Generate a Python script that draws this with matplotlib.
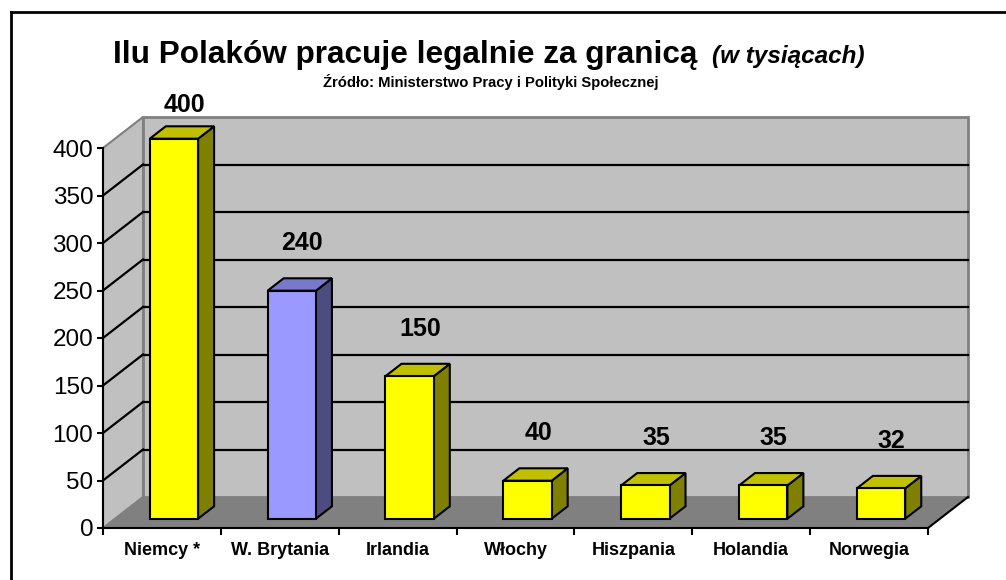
import numpy as np
import matplotlib.pyplot as plt
from matplotlib.patches import Polygon
from matplotlib.lines import Line2D

plt.rcParams['font.family'] = ['Liberation Sans', 'DejaVu Sans']

kraje = ["Niemcy *", "W. Brytania", "Irlandia", "Włochy", "Hiszpania", "Holandia", "Norwegia"]
wartosci = [400, 240, 150, 40, 35, 35, 32]
kolory_przod = ["#FFFF00", "#9999FF", "#FFFF00", "#FFFF00", "#FFFF00", "#FFFF00", "#FFFF00"]
kolory_gora = ["#C0C000", "#7878CC", "#C0C000", "#C0C000", "#C0C000", "#C0C000", "#C0C000"]
kolory_bok = ["#808000", "#4C4C80", "#808000", "#808000", "#808000", "#808000", "#808000"]
y_ticks = [0, 50, 100, 150, 200, 250, 300, 350, 400]

W, H = 1006, 580
fig = plt.figure(figsize=(W / 100, H / 100), dpi=100)

# front plane of the 3d box, in pixels
x0, x1 = 103, 928
y0, y1 = 528, 148
ax = fig.add_axes([x0 / W, (H - y0) / H, (x1 - x0) / W, (y0 - y1) / H])
n = len(kraje)
ymax = 400
ax.set_xlim(0, n)
ax.set_ylim(0, ymax)
ax.patch.set_visible(False)

# depth of the box in data units
DX = 40 / ((x1 - x0) / n)
DY = 31 / ((y0 - y1) / ymax)

# walls and floor
side = Polygon([(0, 0), (0, ymax), (DX, ymax + DY), (DX, DY)], closed=True,
               facecolor="#C0C0C0", edgecolor="#808080", lw=1.5, clip_on=False, zorder=0)
back = Polygon([(DX, DY), (DX, ymax + DY), (n + DX, ymax + DY), (n + DX, DY)], closed=True,
               facecolor="#C0C0C0", edgecolor="#808080", lw=2, clip_on=False, zorder=0)
floor = Polygon([(0, 0), (n, 0), (n + DX, DY), (DX, DY)], closed=True,
                facecolor="#808080", edgecolor="none", clip_on=False, zorder=0.5)
ax.add_patch(side)
ax.add_patch(back)
ax.add_patch(floor)

for v in y_ticks[1:-1]:
    ax.plot([0, DX], [v, v + DY], color="black", lw=1.6, clip_on=False, zorder=1)
    ax.plot([DX, n + DX], [v + DY, v + DY], color="black", lw=1.6, clip_on=False, zorder=1)
ax.plot([n, n + DX], [0, DY], color="black", lw=1.5, clip_on=False, zorder=1)

# bars
bw = 0.41
f0, f1 = 0.3, 0.7
ddx = (f1 - f0) * DX
ddy = (f1 - f0) * DY
for i, v in enumerate(wartosci):
    xl = i + 0.5 - bw / 2 + f0 * DX
    yb = f0 * DY
    yt = v + f0 * DY
    front = Polygon([(xl, yb), (xl + bw, yb), (xl + bw, yt), (xl, yt)], closed=True,
                    facecolor=kolory_przod[i], edgecolor="black", lw=1.5, clip_on=False, zorder=3)
    top = Polygon([(xl, yt), (xl + bw, yt), (xl + bw + ddx, yt + ddy), (xl + ddx, yt + ddy)], closed=True,
                  facecolor=kolory_gora[i], edgecolor="black", lw=1.5, clip_on=False, zorder=3)
    bok = Polygon([(xl + bw, yb), (xl + bw, yt), (xl + bw + ddx, yt + ddy), (xl + bw + ddx, yb + ddy)], closed=True,
                  facecolor=kolory_bok[i], edgecolor="black", lw=1.5, clip_on=False, zorder=3)
    ax.add_patch(bok)
    ax.add_patch(top)
    ax.add_patch(front)
    ax.text(xl + bw / 2 + 0.09, min(v + 60, 445), str(v), ha="center", va="center",
            fontsize=18, fontweight="bold", clip_on=False, zorder=4)

# axes
for s in ["top", "right"]:
    ax.spines[s].set_visible(False)
ax.spines["left"].set_linewidth(1.5)
ax.spines["bottom"].set_linewidth(1.5)
ax.spines["left"].set_zorder(2)
ax.spines["bottom"].set_zorder(2)
ax.set_yticks(y_ticks)
ax.set_yticklabels([str(t) for t in y_ticks], fontsize=17.5)
ax.tick_params(axis="y", length=4, width=1.5, pad=3)
ax.set_xticks(np.arange(n + 1))
ax.set_xticklabels([])
ax.set_xticks(np.arange(n) + 0.5, minor=True)
ax.set_xticklabels(kraje, minor=True, fontsize=13, fontweight="bold")
ax.tick_params(axis="x", which="major", length=5, width=1.5)
ax.tick_params(axis="x", which="minor", length=0, pad=10)

# titles
fig.text(113 / W, (H - 63) / H, "Ilu Polaków pracuje legalnie za granicą", fontsize=22.7,
         fontweight="bold", ha="left", va="baseline")
fig.text(712 / W, (H - 63) / H, "(w tysiącach)", fontsize=17.5, fontweight="bold",
         style="italic", ha="left", va="baseline")
fig.text(491 / W, (H - 87) / H, "Źródło: Ministerstwo Pracy i Polityki Społecznej", fontsize=10.6,
         fontweight="bold", ha="center", va="baseline")

# frame
fig.add_artist(Line2D([11 / W, 11 / W], [0, (H - 12) / H], color="black", lw=2))
fig.add_artist(Line2D([11 / W, 1], [(H - 12) / H, (H - 12) / H], color="black", lw=2))

fig.savefig("out.png", dpi=100)
